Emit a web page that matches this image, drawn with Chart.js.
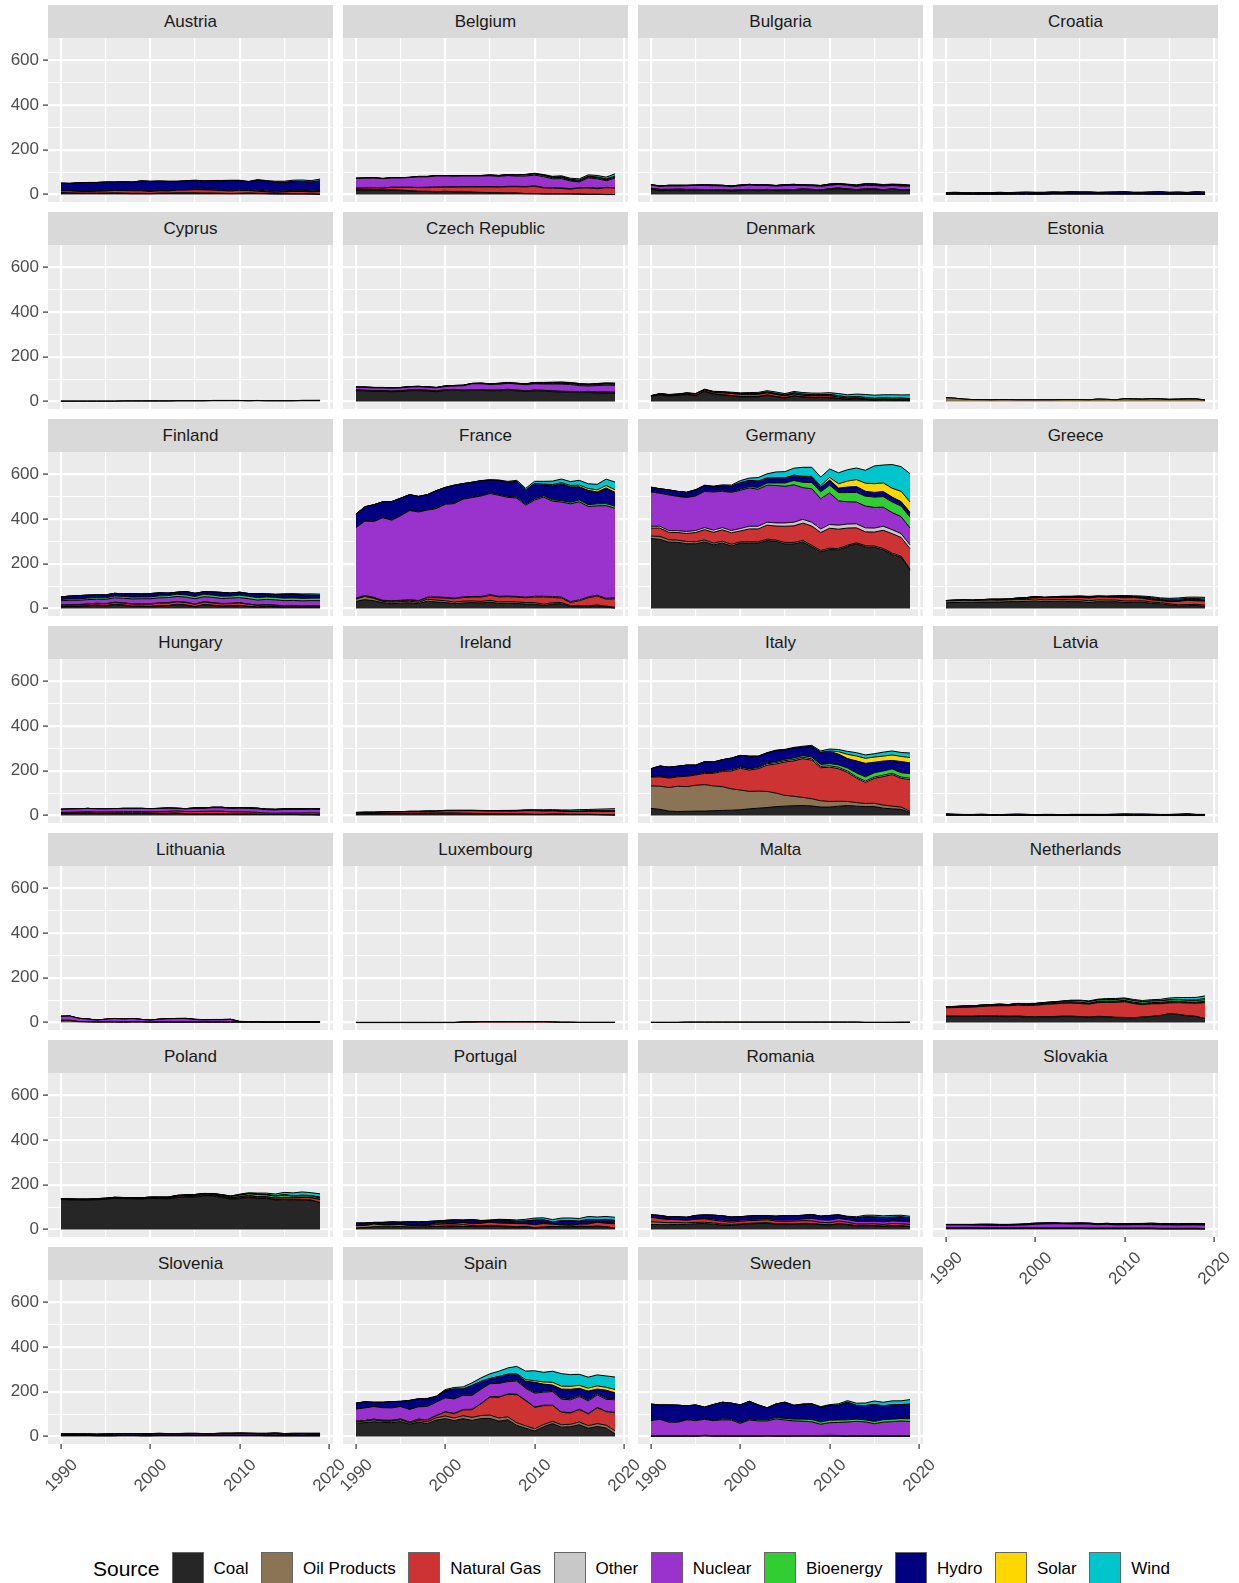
<!DOCTYPE html>
<html>
<head>
<meta charset="utf-8">
<script src="https://cdn.jsdelivr.net/npm/chart.js@4.4.1/dist/chart.umd.min.js"></script>
<style>
  body { margin: 0; background: #fff; width: 1239px; height: 1583px; overflow: hidden; position: relative;
         font-family: "Liberation Sans", Arial, sans-serif; }
  .strip { position: absolute; height: 33px; line-height: 33px; background: #d9d9d9; color: #1a1a1a;
           font-size: 17px; text-align: center; }
  canvas { position: absolute; }
  #legend { position: absolute; left: 93px; top: 1552px; height: 34px; display: flex; align-items: center;
            white-space: nowrap; color: #000; }
  #legend .ttl { font-size: 21px; margin-right: 12px; }
  #legend .key { width: 30px; height: 32px; border: 1px solid #666; margin-right: 10px; }
  #legend .lab { font-size: 17px; margin-right: 12.6px; }
</style>
</head>
<body>
<div id="legend"></div>
<script>
// electricity generation by source, TWh, 1990-2019
const YEARS = [1990,1991,1992,1993,1994,1995,1996,1997,1998,1999,
               2000,2001,2002,2003,2004,2005,2006,2007,2008,2009,
               2010,2011,2012,2013,2014,2015,2016,2017,2018,2019];
const SOURCES = ['Coal', 'Oil Products', 'Natural Gas', 'Other', 'Nuclear', 'Bioenergy', 'Hydro', 'Solar', 'Wind'];
const COLORS = ['#262626', '#8B7355', '#CD3333', '#C8C8C8', '#9A32CD', '#32CD32', '#000080', '#FFD700', '#00C5CD'];
const COUNTRIES = ['Austria', 'Belgium', 'Bulgaria', 'Croatia', 'Cyprus', 'Czech Republic', 'Denmark', 'Estonia',
                   'Finland', 'France', 'Germany', 'Greece', 'Hungary', 'Ireland', 'Italy', 'Latvia',
                   'Lithuania', 'Luxembourg', 'Malta', 'Netherlands', 'Poland', 'Portugal', 'Romania', 'Slovakia',
                   'Slovenia', 'Spain', 'Sweden'];
const Y_BREAKS = [0, 100, 200, 300, 400, 500, 600];
const Y_LABELS = [0, 200, 400, 600];
const X_BREAKS = [1990, 1995, 2000, 2005, 2010, 2015, 2020];
const X_LABELS = [1990, 2000, 2010, 2020];

// each country: [coal, oil, gas, other, nuclear, bio, hydro, solar, wind], null = not present
const AUSTRIA = [
  [7,6,5,5,5,5,6,5,4,4, 4,5,5,6,6,6,5,5,5,4, 5,6,5,4,3,3,3,3,2,1],
  [2,2,2,2,2,2,2,2,2,2, 1,2,2,2,2,2,2,2,1,1, 1,1,1,1,1,1,1,1,1,1],
  [8,9,7,7,8,9,11,11,11,11, 9,10,9,12,12,14,14,13,12,11, 13,11,9,7,6,8,10,10,9,11],
  [1,1,1,1,1,1,1,1,1,1, 1,1,1,1,1,1,1,1,1,1, 1,1,1,1,1,1,1,1,1,1],
  null,
  [1,1,1,1,1,1,1,1,1,1, 1,1,1,2,2,3,3,4,4,4, 4,4,4,4,4,4,4,4,4,4],
  [32,31,37,38,37,38,35,37,37,42, 43,41,41,36,38,37,35,36,38,41, 38,34,44,42,40,37,39,38,38,42],
  [0,0,0,0,0,0,0,0,0,0, 0,0,0,0,0,0,0,0,0,0, 0,0,0.3,0.6,0.8,0.9,1.1,1.3,1.4,1.7],
  [0,0,0,0,0,0,0,0,0,0, 0.1,0.2,0.2,0.4,0.9,1.3,1.7,2,2,2, 2,1.9,2.5,3.1,3.8,4.8,5.2,6.6,6,7.4]
];
const BELGIUM = [
  [20,20,20,19,20,18,16,14,14,12, 14,12,12,10,9,8,7,6,6,4, 4,3,3,3,3,2,1,1,0,0],
  [2,2,2,2,2,2,2,1,1,1, 1,1,1,1,1,1,1,1,1,1, 1,1,0.5,0.5,0.5,0.5,0.5,0.5,0.5,0.5],
  [6,7,8,8,10,12,14,16,16,19, 18,20,21,23,24,25,25,28,28,29, 32,26,25,24,21,26,28,25,30,28],
  [1,1,1,1,1,1,1,1,2,2, 2,2,2,2,2,2,2,2,2,2, 2,2,2,2,2,2,2,2,2,2],
  [43,43,43,41,41,41,43,47,46,49, 48,47,47,47,47,48,46,48,45,47, 48,48,40,42,34,26,43,42,29,43],
  [0,0,0,0,0,0,0,1,1,1, 1,1,1,1,1,2,3,3,4,5, 5,5,5,5,4,4,4,4,4,4],
  [1,1,1,1,1,1,1,1,1,1, 1,1,1,1,1,1,1,1,1,1, 1,1,1,1,1,1,1,1,1,1],
  [0,0,0,0,0,0,0,0,0,0, 0,0,0,0,0,0,0,0,0.1,0.2, 0.6,1.2,2.1,2.6,2.9,3.1,3.1,3.3,3.9,4.1],
  [0,0,0,0,0,0,0,0,0,0, 0,0.1,0.1,0.1,0.1,0.2,0.4,0.5,0.6,1, 1.3,2.3,2.8,3.8,4.6,5.6,5.4,6.5,7.5,9.9]
];
const BULGARIA = [
  [22,18,18,19,19,19,18,18,18,16, 18,20,17,20,17,18,19,22,20,18, 23,26,22,19,22,22,19,23,19,18],
  [2,2,2,2,1,1,1,1,1,1, 1,1,1,1,1,1,1,1,1,1, 1,1,1,1,1,1,0.5,0.5,0.5,0.5],
  [4,3,3,3,3,3,3,3,2,2, 2,2,2,2,2,2,2,2,2,2, 2,2,2,2,2,2,2,2,2,2],
  [0.5,0.5,0.5,0.5,0.5,0.5,0.5,0.5,0.5,0.5, 0.5,0.5,0.5,0.5,0.5,0.5,0.5,0.5,0.5,0.5, 0.5,0.5,0.5,0.5,0.5,0.5,0.5,0.5,0.5,0.5],
  [14,13,15,14,16,17,18,17,17,16, 18,19,20,17,17,19,19,15,16,15, 15,16,16,14,16,15,16,15,16,16],
  null,
  [2,2,3,3,2,2,3,3,3,3, 3,3,3,3,3,4,4,3,3,4, 5,3,3,4,5,5,4,3,5,3],
  [0,0,0,0,0,0,0,0,0,0, 0,0,0,0,0,0,0,0,0,0, 0,0.1,0.8,1.4,1.3,1.4,1.4,1.4,1.3,1.4],
  [0,0,0,0,0,0,0,0,0,0, 0,0,0,0,0,0,0,0,0.1,0.2, 0.7,0.9,1.2,1.4,1.4,1.5,1.4,1.5,1.3,1.3]
];
const CROATIA = [
  [1,1,1,1,1,1,1,1,1,1, 1,1,2,2,2,2,2,2,2,2, 2,2,2,2,2,2,2,1,1,1],
  [3,3,2,2,2,2,2,2,3,3, 2,2,3,3,2,2,2,2,2,1, 1,1,1,0.5,0.3,0.3,0.3,0.3,0.3,0.3],
  [2,2,2,1,1,1,1,1,1,1, 1,1,2,2,2,2,2,2,2,2, 2,2,2,1,1,1,1,2,2,2],
  null,
  null,
  [0,0,0,0,0,0,0,0,0,0, 0,0,0,0,0,0,0,0,0,0, 0,0.1,0.1,0.2,0.3,0.4,0.5,0.6,0.7,0.8],
  [3,4,4,4,5,5,6,5,5,6, 6,6,5,4,7,6,6,4,5,7, 8,5,5,8,9,6,7,5,8,6],
  null,
  [0,0,0,0,0,0,0,0,0,0, 0,0,0,0,0,0,0,0,0,0, 0.1,0.2,0.3,0.5,0.7,0.8,1,1.2,1.3,1.5]
];
const CYPRUS = [
  null,
  [2,2,2,2,2,2,2,3,3,3, 3,3,3,4,4,4,4,5,5,5, 5,4,5,4,4,4,4,5,5,5],
  null, null, null, null, null,
  [0,0,0,0,0,0,0,0,0,0, 0,0,0,0,0,0,0,0,0,0, 0,0,0,0.1,0.1,0.1,0.2,0.2,0.2,0.3],
  [0,0,0,0,0,0,0,0,0,0, 0,0,0,0,0,0,0,0,0,0, 0,0.1,0.1,0.2,0.2,0.2,0.2,0.2,0.2,0.2]
];
const CZECH = [
  [49,48,46,46,44,45,48,49,47,44, 50,51,48,50,50,48,48,52,48,45, 48,47,44,42,41,40,40,38,38,36],
  [1,1,1,1,1,1,1,1,1,1, 0.5,0.5,0.5,0.5,0.5,0.5,0.5,0.5,0.5,0.5, 0.5,0.5,0.5,0.5,0.5,0.5,0.5,0.5,0.5,0.5],
  [1,1,1,1,1,2,2,2,2,2, 2,2,2,2,2,2,2,2,2,2, 2,2,2,2,2,2,3,3,3,4],
  [1,1,1,1,1,1,1,1,1,1, 1,1,1,1,1,1,1,1,1,1, 1,1,2,2,2,2,2,2,2,2],
  [12,12,12,12,13,12,13,13,13,13, 14,15,19,26,26,25,26,26,27,27, 28,28,30,31,31,27,24,28,30,30],
  [0,0,0,0,0,0,0,0,0,0, 0.3,0.4,0.5,0.6,0.7,0.8,0.9,1,1.2,1.5, 1.9,2.4,3,3.7,4,4.2,4.3,4.4,4.5,4.6],
  [1,2,2,2,2,2,2,2,2,2, 2,2,2,1,2,2,3,2,2,2, 3,2,2,3,2,2,2,2,2,2],
  [0,0,0,0,0,0,0,0,0,0, 0,0,0,0,0,0,0,0,0,0.1, 0.6,2.1,2.2,2.2,2.1,2.3,2.1,2.2,2.4,2.4],
  [0,0,0,0,0,0,0,0,0,0, 0,0,0,0,0,0,0.1,0.1,0.2,0.3, 0.3,0.4,0.4,0.5,0.5,0.6,0.5,0.6,0.6,0.7]
];
const DENMARK = [
  [23,30,25,27,31,26,44,33,29,25, 21,21,21,28,21,16,25,20,18,18, 17,13,9,12,9,5,8,6,6,4],
  [1,2,2,2,2,2,3,2,2,2, 2,2,2,2,2,1,1,1,1,1, 1,1,1,1,1,1,1,1,1,1],
  [1,2,3,3,4,5,5,6,8,9, 9,9,9,9,9,8,8,7,7,7, 8,6,4,3,2,2,2,2,2,2],
  [0,0,0,0,0,1,1,1,1,1, 1,1,1,1,1,1,1,1,1,1, 1,1,1,1,1,1,1,1,1,1],
  null,
  [1,1,1,1,1,1,1,2,2,2, 2,3,3,3,3,3,4,4,4,4, 5,5,5,5,5,5,5,5,5,5],
  null,
  [0,0,0,0,0,0,0,0,0,0, 0,0,0,0,0,0,0,0,0,0, 0,0,0.1,0.5,0.6,0.6,0.7,0.8,1,1],
  [0.6,0.7,0.9,1,1.1,1.2,1.2,1.9,2.8,3, 4.2,4.3,4.9,5.6,6.6,6.6,6.1,7.2,6.9,6.7, 7.8,9.8,10.3,11.1,13.1,14.1,12.8,14.8,13.9,16.1]
];
const ESTONIA = [
  null,
  [17,15,11,9,9,8,9,9,8,8, 8,8,8,9,9,9,8,11,10,8, 12,11,10,12,11,9,10,11,11,6],
  null, null, null,
  [0,0,0,0,0,0,0,0,0,0, 0,0,0,0,0,0.1,0.1,0.1,0.1,0.3, 0.8,0.9,1,1,1,1,1,1,1,1],
  null, null,
  [0,0,0,0,0,0,0,0,0,0, 0,0,0,0,0,0,0,0,0,0, 0.3,0.4,0.4,0.5,0.6,0.7,0.6,0.7,0.6,0.7]
];
const FINLAND = [
  [8,10,9,12,15,12,18,15,10,10, 9,12,13,18,15,8,17,14,10,11, 13,9,6,9,8,6,7,6,7,6],
  [2,2,2,1,1,1,1,1,1,1, 1,1,1,1,1,1,1,1,1,1, 1,1,1,1,1,0.5,0.5,0.5,0.5,0.5],
  [5,5,6,7,7,8,8,8,9,9, 10,11,11,11,11,10,11,10,10,10, 11,9,7,6,5,4,4,4,4,4],
  [1,1,1,1,1,1,2,2,2,2, 2,2,2,2,2,2,2,2,2,2, 2,2,2,2,2,2,2,2,2,2],
  [19,19,19,19,18,19,19,20,21,22, 22,22,22,22,22,23,22,23,22,23, 22,23,22,23,23,23,23,22,22,23],
  [6,6,6,7,7,7,8,8,8,8, 8,9,9,10,10,10,11,10,10,9, 11,11,11,11,11,11,11,11,11,11],
  [11,13,15,13,12,13,12,12,15,13, 15,13,11,9,15,14,11,14,17,13, 13,12,17,13,13,17,16,15,13,12],
  [0,0,0,0,0,0,0,0,0,0, 0,0,0,0,0,0,0,0,0,0, 0,0,0,0,0,0,0,0.1,0.2,0.2],
  [0,0,0,0,0,0,0,0,0,0.1, 0.1,0.1,0.1,0.1,0.1,0.2,0.2,0.2,0.3,0.3, 0.3,0.5,0.5,0.8,1.1,2.3,3.1,4.8,5.9,6]
];
const FRANCE = [
  [32,40,35,26,22,24,26,22,33,29, 27,22,25,27,25,29,23,24,23,20, 20,14,20,22,9,9,8,11,7,2],
  [10,14,10,6,7,7,7,6,9,9, 8,7,8,7,7,8,7,7,7,7, 7,6,6,5,4,4,5,5,4,4],
  [3,3,3,3,4,4,5,6,7,11, 12,15,16,17,19,22,22,22,21,21, 24,31,24,20,14,22,35,40,31,38],
  [2,2,2,2,2,2,2,2,2,3, 3,3,3,3,3,3,3,3,3,3, 4,4,4,4,4,4,4,4,4,4],
  [314,331,338,368,359,377,397,395,388,394, 415,421,436,441,448,451,450,440,439,410, 429,442,425,424,436,437,403,398,413,399],
  [2,2,2,2,2,2,2,2,3,3, 3,3,3,3,3,4,4,4,5,5, 5,6,6,6,7,8,8,9,9,9],
  [58,62,73,69,81,76,69,67,66,77, 72,79,66,65,65,56,62,63,68,62, 68,50,64,76,69,59,64,53,70,62],
  [0,0,0,0,0,0,0,0,0,0, 0,0,0,0,0,0,0,0,0,0.2, 0.6,2.1,4,4.7,5.9,7.3,8.2,9.2,10.6,11.4],
  [0,0,0,0,0,0,0,0,0,0, 0.1,0.1,0.3,0.4,0.6,1,2.2,4,5.7,7.9, 9.9,12.2,15.2,16,17.2,21.4,21.4,24.7,28.6,34.6]
];
const GERMANY = [
  [312,309,296,295,289,289,297,284,292,279, 291,293,292,304,299,288,288,297,275,253, 263,262,278,288,275,273,262,241,229,171],
  [11,13,11,10,10,9,9,8,8,8, 6,6,6,6,6,7,7,7,7,6, 6,6,5,5,6,6,6,6,5,5],
  [36,37,33,34,36,41,46,48,51,51, 49,56,57,62,63,72,74,77,86,80, 89,86,76,67,61,62,81,87,83,91],
  [8,8,8,8,9,9,9,10,10,10, 11,12,12,13,14,15,16,17,17,16, 17,18,18,18,18,18,18,18,17,17],
  [153,147,159,153,151,154,161,170,162,170, 170,171,165,165,167,163,167,141,149,135, 141,108,99,97,97,92,85,76,76,75],
  [1,1,1,1,1,2,2,2,3,3, 5,6,8,10,11,15,19,24,28,30, 34,37,41,43,44,46,47,47,47,48],
  [20,19,21,21,22,25,24,21,21,24, 29,27,28,22,23,22,22,24,23,21, 23,20,25,26,22,21,23,22,20,22],
  [0,0,0,0,0,0,0,0,0,0, 0,0.1,0.2,0.3,0.6,1.3,2.2,3.1,4.4,6.6, 11.7,19.6,26.4,31,36.1,38.7,38.1,39.4,45.8,46.4],
  [0,0.2,0.3,0.6,0.9,1.5,2,3,4.5,5.5, 9.5,10.5,15.8,18.7,25.5,27.2,30.7,39.7,40.6,38.6, 37.8,48.9,50.7,51.7,57.4,79.2,79.9,105.7,110,126]
];
const GREECE = [
  [26,27,28,28,29,29,29,31,31,32, 34,31,32,33,31,31,27,31,30,31, 27,28,29,23,21,16,12,13,14,10],
  [8,8,9,8,8,9,8,8,9,8, 9,8,8,7,8,8,8,8,8,7, 7,6,6,6,6,5,5,5,5,5],
  [0,0,0,0,0,1,1,1,3,5, 7,9,9,9,10,11,12,13,13,12, 14,15,11,10,9,10,15,19,16,19],
  null,
  null,
  [0,0,0,0,0,0,0,0,0,0, 0,0,0,0,0,0,0,0,0,0, 0.2,0.2,0.2,0.2,0.2,0.3,0.3,0.3,0.3,0.3],
  [2,3,2,2,3,3,4,3,4,4, 4,2,3,5,5,5,6,3,3,5, 7,4,4,6,4,6,6,4,6,4],
  [0,0,0,0,0,0,0,0,0,0, 0,0,0,0,0,0,0,0,0,0.1, 0.2,0.6,1.7,3.6,3.8,3.9,3.9,4,3.8,4.4],
  [0,0,0,0,0,0,0,0,0,0.1, 0.4,0.7,0.6,1.1,1.1,1.3,1.7,1.8,2.2,2.5, 2.7,3.3,3.9,4.1,3.7,4.6,5.1,5.5,6.3,7.3]
];
const HUNGARY = [
  [9,9,10,10,9,9,9,9,9,9, 9,8,8,9,7,6,6,6,6,6, 6,6,6,5,5,5,5,4,4,3],
  [2,2,2,3,2,2,3,4,4,4, 3,3,3,3,1,1,1,1,1,1, 1,1,0.5,0.5,0.5,0.3,0.3,0.3,0.3,0.3],
  [3,4,4,5,5,5,5,5,5,5, 5,7,8,9,10,11,12,13,13,10, 10,9,8,6,5,6,6,7,8,8],
  null,
  [14,14,14,14,14,14,14,14,14,14, 14,14,14,11,12,14,13,15,15,15, 16,16,16,15,15,16,16,16,16,16],
  [0,0,0,0,0,0,0,0,0,0, 0,0,0.5,0.5,1,2,2,2,2,2, 2,2,2,2,2,2,2,2,2,2],
  [0.2,0.2,0.2,0.2,0.2,0.2,0.2,0.2,0.2,0.2, 0.2,0.2,0.2,0.2,0.2,0.2,0.2,0.2,0.2,0.2, 0.2,0.2,0.2,0.2,0.2,0.2,0.2,0.2,0.2,0.2],
  [0,0,0,0,0,0,0,0,0,0, 0,0,0,0,0,0,0,0,0,0, 0,0,0,0,0,0.1,0.2,0.4,0.6,1.3],
  [0,0,0,0,0,0,0,0,0,0, 0,0,0,0,0,0,0,0,0,0, 0.5,0.6,0.8,0.7,0.6,0.7,0.7,0.8,0.6,0.7]
];
const IRELAND = [
  [6,7,7,8,8,8,8,8,8,8, 8,8,7,7,6,6,6,6,6,6, 5,5,6,6,5,5,5,4,3,2],
  [2,2,2,2,2,2,3,3,4,4, 4,4,4,3,3,3,3,2,1,1, 1,1,1,1,1,1,1,1,1,1],
  [5,5,5,5,6,6,7,7,7,7, 10,10,11,12,12,11,11,12,13,15, 16,14,14,12,12,12,13,14,15,16],
  [0.3,0.3,0.3,0.3,0.3,0.3,0.3,0.3,0.3,0.3, 0.3,0.3,0.3,0.3,0.3,0.3,0.3,0.3,0.3,0.3, 0.3,0.3,0.3,0.3,0.3,0.3,0.3,0.3,0.3,0.3],
  null,
  [0,0,0,0,0,0,0,0,0,0, 0,0,0,0,0,0,0,0,0,0, 0.2,0.3,0.4,0.5,0.6,0.7,0.8,0.9,0.9,1],
  [1,1,1,1,1,1,1,1,1,1, 1,1,1,1,1,1,1,1,1,1, 1,1,1,1,1,1,1,1,1,1],
  null,
  [0,0,0,0,0,0,0,0,0,0, 0.2,0.3,0.4,0.4,0.7,1.1,1.6,1.9,2.4,2.9, 2.8,4.4,4,4.5,5.1,6.5,6.1,7.4,8.6,9.5]
];
const ITALY = [
  [32,28,20,18,19,20,20,22,23,24, 26,30,33,36,40,42,44,45,43,38, 38,42,45,42,40,40,33,30,28,14],
  [100,103,105,113,110,115,118,110,106,95, 88,78,76,72,60,48,42,36,32,28, 25,22,18,16,14,15,14,12,10,6],
  [39,42,42,42,46,46,50,56,68,80, 97,95,100,117,130,149,158,173,172,147, 153,145,130,109,94,111,127,141,128,141],
  [3,3,3,3,3,3,4,4,4,5, 5,5,5,6,6,6,6,6,6,6, 6,6,6,6,6,6,6,6,6,6],
  null,
  [0,0,0,0,0,0,1,1,1,1, 2,2,3,4,5,6,7,7,8,9, 10,11,13,17,19,19,19,19,19,20],
  [35,45,46,44,47,41,47,46,47,51, 50,54,47,44,49,42,44,38,47,53, 54,48,42,54,60,47,44,38,50,48],
  [0,0,0,0,0,0,0,0,0,0, 0,0,0,0,0,0,0,0,0.2,0.7, 1.9,10.8,18.9,21.6,22.3,22.9,22.1,24.4,22.7,23.7],
  [0,0,0,0,0,0,0,0.1,0.2,0.4, 0.6,1.2,1.4,1.5,1.8,2.3,3,4,4.9,6.5, 9.1,9.9,13.4,14.9,15.2,14.8,17.7,17.7,17.7,20.2]
];
const LATVIA = [
  null,
  [1,1,1,1,1,0.5,0.5,0.5,0.5,0.5, 0.2,0.2,0.2,0.2,0.2,0.2,0.2,0.2,0.2,0.2, 0.2,0.2,0.2,0.2,0.2,0.2,0.2,0.2,0.2,0.2],
  [2,2,2,1,1,1,2,2,2,2, 1,2,2,2,2,2,2,2,2,2, 3,3,2,2,2,2,2,3,2,2],
  null, null,
  [0,0,0,0,0,0,0,0,0,0, 0,0,0,0,0,0,0,0,0,0, 0.2,0.3,0.4,0.5,0.7,0.8,0.9,0.9,0.9,0.9],
  [5,3,2,3,4,3,2,3,4,3, 3,3,3,2,3,3,3,3,3,4, 4,3,4,3,2,2,3,4,2,2],
  null,
  [0,0,0,0,0,0,0,0,0,0, 0,0,0,0,0,0,0,0,0,0, 0.05,0.07,0.1,0.1,0.1,0.1,0.1,0.2,0.1,0.2]
];
const LITHUANIA = [
  null,
  [8,8,4,3,2,2,2,1,2,2, 1,1,1,1,1,1,1,1,1,1, 1,1,1,0.5,0.5,0.5,0.5,0.5,0.5,0.5],
  [3,3,1,1,1,2,2,3,2,2, 2,3,3,2,3,3,3,3,3,3, 3,2,2,1,1,1,1,1,1,1],
  null,
  [17,18,14,12,8,11,14,12,14,10, 8,11,13,15,14,10,8,9,9,10, 0,0,0,0,0,0,0,0,0,0],
  [0,0,0,0,0,0,0,0,0,0, 0,0,0,0,0,0,0,0,0,0, 0.3,0.3,0.4,0.4,0.5,0.5,0.5,0.6,0.6,0.6],
  [0.4,0.4,0.4,0.4,0.4,0.4,0.4,0.4,0.4,0.4, 0.6,0.6,0.6,0.6,0.9,0.9,0.9,0.9,0.9,0.9, 1,1,1,1,1,1,1,1,1,1],
  null,
  [0,0,0,0,0,0,0,0,0,0, 0,0,0,0,0,0,0,0,0,0, 0.2,0.5,0.5,0.6,0.6,0.8,1.1,1.4,1.1,1.5]
];
const LUXEMBOURG = [
  null, null,
  [0,0,0,0,0,0,0,0,0,0, 0,0,2,2,3,3,3,3,3,3, 3,3,2,1,1,0.3,0.3,0.3,0.3,0.3],
  [0.5,0.5,0.5,0.5,0.5,0.5,0.5,0.5,0.5,0.5, 0.5,0.5,0.5,0.5,0.5,0.5,0.5,0.5,0.5,0.5, 0.5,0.5,0.5,0.5,0.5,0.5,0.5,0.5,0.5,0.5],
  null, null,
  [1,1,1,1,1,1,1,1,1,1, 1,1,1,1,1,1,1,1,1,1, 1,1,1,1,1,1,1,1,1,1],
  null, null
];
const MALTA = [
  null,
  [1,1,1,1,2,2,2,2,2,2, 2,2,2,2,2,2,2,2,2,2, 2,2,2,2,1,1,1,0.3,0.3,0.3],
  [0,0,0,0,0,0,0,0,0,0, 0,0,0,0,0,0,0,0,0,0, 0,0,0,0,0,0,0,1,1.5,1.5],
  null, null, null, null,
  [0,0,0,0,0,0,0,0,0,0, 0,0,0,0,0,0,0,0,0,0, 0,0,0.1,0.1,0.1,0.1,0.1,0.2,0.2,0.2],
  null
];
const NETHERLANDS = [
  [27,27,26,26,28,28,27,26,27,24, 24,25,25,27,27,25,23,26,25,22, 22,21,24,27,31,39,36,30,27,17],
  [3,3,3,3,3,3,3,3,3,3, 2,2,2,2,2,2,2,2,2,2, 1,1,1,1,1,1,1,1,1,1],
  [36,37,39,40,41,43,45,46,48,49, 51,54,56,57,58,58,57,61,63,66, 70,63,55,56,52,48,52,56,58,71],
  [1,1,1,1,1,1,1,1,1,1, 1,1,2,2,2,2,2,2,2,2, 2,2,2,2,2,2,2,2,2,2],
  [3,3,4,4,4,4,4,2,4,4, 4,4,4,4,4,4,3,4,4,4, 4,4,4,3,4,4,4,3,3,4],
  [1,1,1,1,1,1,2,2,2,3, 3,3,3,3,5,7,7,6,7,7, 7,7,7,7,7,7,7,7,7,7],
  null,
  [0,0,0,0,0,0,0,0,0,0, 0,0,0,0,0,0,0,0,0,0, 0.1,0.1,0.3,0.5,0.8,1.1,1.6,2.2,3.7,5.3],
  [0,0,0,0,0,0.3,0.5,0.5,0.6,0.7, 0.8,0.8,0.9,1.3,1.9,2.1,2.7,3.4,4.3,4.6, 4,5.1,5,5.6,5.8,7.6,8.2,10.6,10.6,11.5]
];
const POLAND = [
  [134,132,131,131,133,135,139,138,137,136, 139,138,137,143,145,145,149,149,143,135, 138,143,138,139,132,134,131,132,129,119],
  [2,2,2,2,2,2,2,2,2,2, 2,2,2,2,2,3,3,3,3,3, 3,3,3,2,2,2,3,3,3,2],
  [0,0,0,0,0,0,0,0,0,1, 1,2,3,4,4,4,4,3,3,3, 5,5,5,5,6,7,7,8,10,13],
  [1,1,1,1,1,1,1,1,1,1, 1,1,1,1,1,1,1,1,1,1, 1,1,1,1,1,1,1,1,1,1],
  null,
  [0,0,0,0,0,0,0,0,0,0, 0,0,0,0.5,1,1.4,2,2.4,3.3,4.9, 6,7.1,9.1,7.5,8,9,7,6,6.5,6.5],
  [1,2,2,2,2,2,2,2,2,2, 2,2,2,2,2,2,2,2,2,2, 3,2,2,2,2,2,2,3,2,2],
  [0,0,0,0,0,0,0,0,0,0, 0,0,0,0,0,0,0,0,0,0, 0,0,0,0,0,0,0,0,0.3,0.7],
  [0,0,0,0,0,0,0,0,0,0, 0,0,0,0,0,0.1,0.3,0.5,0.8,1, 1.7,3.2,4.7,6,7.7,10.9,12.6,14.9,12.8,15.1]
];
const PORTUGAL = [
  [8,9,13,13,13,14,12,12,13,14, 13,14,14,14,13,14,14,12,10,12, 7,10,12,11,11,13,12,14,11,5],
  [10,9,12,8,8,9,6,5,5,8, 7,6,8,4,4,5,3,3,3,2, 2,2,2,2,2,2,2,2,2,2],
  [0,0,0,0,0,0,0,1,3,7, 8,7,10,8,11,14,12,13,14,12, 13,15,10,8,6,9,11,17,15,19],
  [1,1,1,1,1,1,1,1,1,1, 1,1,1,1,1,1,1,1,1,1, 1,1,1,1,1,1,1,1,1,1],
  null,
  [1,1,1,1,1,1,1,1,1,1, 1,1,1,1,1,2,2,2,2,2, 3,3,3,3,3,3,3,3,3,3],
  [9,9,5,9,11,8,15,14,13,7, 11,14,8,16,10,5,11,10,7,9, 16,12,6,14,16,9,16,6,13,10],
  [0,0,0,0,0,0,0,0,0,0, 0,0,0,0,0,0,0,0,0.04,0.2, 0.2,0.3,0.4,0.5,0.6,0.8,0.9,1,1,1.3],
  [0,0,0,0,0,0,0,0,0.1,0.1, 0.2,0.3,0.4,0.5,0.8,1.8,2.9,4,5.8,7.6, 9.2,9.2,10.3,12,12.1,11.6,12.5,12.2,12.6,13.7]
];
const ROMANIA = [
  [23,22,22,23,23,26,27,24,20,18, 22,25,27,28,23,23,23,26,25,22, 20,25,22,16,17,17,14,17,16,13],
  [12,11,9,8,7,6,6,6,5,5, 3,3,3,3,3,3,2,2,2,1, 1,1,1,1,1,1,1,1,1,1],
  [20,16,14,13,12,14,15,12,12,10, 12,12,11,13,12,11,13,12,12,9, 10,12,10,8,7,8,8,9,9,9],
  null,
  [0,0,0,0,0,0,1.4,5.4,5.3,5.2, 5.5,5.5,5.5,4.9,5.6,5.5,5.6,7.7,11.2,11.8, 11.6,11.7,11.5,11.6,11.7,11.6,11.3,11.5,11.4,11.3],
  [0,0,0,0,0,0,0,0,0,0, 0,0,0,0,0,0,0,0,0,0, 0.3,0.3,0.4,0.5,0.5,0.5,0.5,0.5,0.5,0.5],
  [11,14,12,13,13,17,16,17,19,18, 15,15,16,13,16,20,18,16,17,16, 20,15,12,15,19,17,18,15,18,16],
  [0,0,0,0,0,0,0,0,0,0, 0,0,0,0,0,0,0,0,0,0, 0,0,0,0.4,1.6,2,1.8,1.8,1.8,1.7],
  [0,0,0,0,0,0,0,0,0,0, 0,0,0,0,0,0,0,0,0,0, 0.3,1.4,2.6,4.8,6.2,7.1,6.6,7.4,6.3,6.8]
];
const SLOVAKIA = [
  [6,6,6,6,5,5,5,5,5,5, 5,5,5,5,5,5,4,4,4,4, 4,4,4,4,3,3,3,3,3,2],
  [1,1,1,1,1,1,1,1,1,1, 1,1,1,1,1,1,1,1,1,1, 1,1,1,1,1,1,1,1,1,1],
  [2,2,2,2,2,2,2,2,2,2, 2,2,2,2,2,2,2,2,2,2, 2,2,2,2,2,2,2,2,2,2],
  null,
  [12,12,12,11,12,11,11,11,12,13, 16,17,18,18,17,17,18,15,17,14, 14,15,15,15,15,15,14,15,15,15],
  [0,0,0,0,0,0,0,0,0,0, 0,0,0,0,0,0,0,0,0,0, 0.7,0.9,1,1.2,1.5,1.6,1.6,1.7,1.7,1.7],
  [2,2,2,3,4,5,4,4,4,5, 5,5,5,3,4,5,4,4,4,5, 5,4,4,5,4,4,4,4,4,4],
  [0,0,0,0,0,0,0,0,0,0, 0,0,0,0,0,0,0,0,0,0, 0,0.4,0.5,0.6,0.6,0.5,0.5,0.5,0.6,0.6],
  null
];
const SLOVENIA = [
  [5,5,5,5,4,4,4,5,5,4, 4,5,5,5,5,5,5,5,5,5, 5,5,5,4,4,4,4,4,4,4],
  [0.3,0.3,0.3,0.3,0.3,0.3,0.3,0.3,0.3,0.3, 0.3,0.3,0.3,0.3,0.3,0.3,0.3,0.3,0.3,0.3, 0.3,0.3,0.3,0.3,0.3,0.3,0.3,0.3,0.3,0.3],
  [0.2,0.2,0.2,0.2,0.2,0.2,0.2,0.2,0.2,0.2, 0.2,0.2,0.2,0.2,0.2,0.2,0.2,0.2,0.2,0.2, 0.2,0.2,0.2,0.2,0.2,0.2,0.2,0.2,0.2,0.2],
  null,
  [4,4,4,4,4,5,5,5,5,5, 5,5,5,5,5,6,5,5,6,5, 6,6,5,5,6,5,5,6,5,5],
  null,
  [3,3,3,3,3,3,3,3,3,4, 4,4,3,3,4,3,3,3,4,5, 5,4,4,5,6,4,5,4,5,5],
  [0,0,0,0,0,0,0,0,0,0, 0,0,0,0,0,0,0,0,0,0, 0.1,0.1,0.2,0.2,0.3,0.3,0.3,0.3,0.3,0.3],
  null
];
const SPAIN = [
  [60,62,66,63,62,67,55,64,58,74, 80,71,80,72,80,81,69,75,50,37, 25,44,58,42,44,53,37,45,38,12],
  [6,7,8,6,6,8,6,7,8,10, 12,12,13,14,14,15,14,13,12,11, 10,10,10,11,11,12,12,13,13,14],
  [2,2,3,3,4,3,3,6,8,9, 17,19,26,34,52,80,92,100,125,112, 95,84,70,55,50,55,52,70,60,80],
  [1,1,1,1,1,1,1,1,1,2, 2,2,2,2,2,2,2,2,2,2, 2,2,2,2,2,2,2,2,2,2],
  [54,56,56,56,55,55,56,55,59,59, 62,64,63,62,63,58,60,55,59,53, 62,58,61,57,57,57,56,56,53,56],
  [0,0,0,0,0,0,0,0,1,1, 1,1,2,2,3,3,3,3,4,4, 4,4,5,5,5,5,5,5,5,5],
  [26,27,19,24,28,23,40,35,34,23, 31,43,26,42,32,20,28,30,26,28, 44,32,24,40,42,31,39,21,36,26],
  [0,0,0,0,0,0,0,0,0,0, 0,0,0,0,0,0,0.1,0.5,2.6,6.8, 7.2,9.6,11.9,12.9,13.2,13.3,13,13.9,12.7,15],
  [0,0,0,0,0,0.3,0.4,0.7,1.4,2.7, 4.7,6.9,9.6,12,15.9,21,23.3,27.6,32.2,38.3, 44.3,42.9,49.5,55.6,52,49.3,48.9,49.1,50.8,55.6]
];
const SWEDEN = [
  [1,1,1,1,2,2,3,2,2,2, 2,2,2,2,2,2,2,2,2,2, 2,2,1,1,1,1,1,1,1,1],
  [1,1,1,1,1,1,2,1,1,1, 1,1,1,2,1,1,1,1,1,1, 1,1,1,1,1,1,1,1,1,1],
  [0,0,0,0,0,0,0,0,0,0, 0,0,0,0,0,0,1,1,1,1, 2,1,1,1,0.5,0.5,0.5,0.5,0.5,0.5],
  [1,1,1,1,1,1,1,1,1,1, 1,1,1,1,1,1,1,1,1,1, 1,1,1,1,1,1,1,1,1,1],
  [68,74,61,61,71,67,71,67,71,70, 55,70,66,65,75,70,65,64,61,50, 56,58,61,64,62,54,61,63,66,64],
  [2,2,2,2,3,3,3,3,4,4, 4,4,5,5,6,7,8,9,10,10, 11,11,10,10,9,10,11,11,11,12],
  [72,62,75,74,59,67,51,69,74,71, 78,79,66,53,60,72,61,66,69,66, 66,66,78,61,64,75,62,64,62,65],
  [0,0,0,0,0,0,0,0,0,0, 0,0,0,0,0,0,0,0,0,0, 0,0,0,0,0,0,0,0.2,0.4,0.7],
  [0,0,0,0,0.1,0.1,0.1,0.2,0.3,0.4, 0.5,0.5,0.6,0.6,0.9,0.9,1,1.4,2,2.5, 3.5,6.1,7.2,9.8,11.2,16.3,15.5,17.6,16.6,19.8]
];

const DATA = [AUSTRIA, BELGIUM, BULGARIA, CROATIA, CYPRUS, CZECH, DENMARK, ESTONIA,
              FINLAND, FRANCE, GERMANY, GREECE, HUNGARY, IRELAND, ITALY, LATVIA,
              LITHUANIA, LUXEMBOURG, MALTA, NETHERLANDS, POLAND, PORTUGAL, ROMANIA, SLOVAKIA,
              SLOVENIA, SPAIN, SWEDEN];

// facet geometry
const PX0 = 48, COLSTEP = 295, PW = 285, ROW0 = 5, ROWSTEP = 207, STRIPH = 33, PH = 164;
const ML = 48, MR = 34, MB = 62;
const FONT = '"Liberation Sans", Arial, sans-serif';

const panelBg = {
  id: 'panelBg',
  beforeDraw(chart) {
    const a = chart.chartArea;
    const ctx = chart.ctx;
    ctx.save();
    ctx.fillStyle = '#ebebeb';
    ctx.fillRect(a.left, a.top, a.right - a.left, a.bottom - a.top);
    ctx.restore();
  }
};

function makePanel(i) {
  const col = i % 4, row = Math.floor(i / 4);
  const left = PX0 + col * COLSTEP;
  const top = ROW0 + row * ROWSTEP;
  const isBottom = row === 6 || (row === 5 && col === 3);
  const isLeft = col === 0;

  const strip = document.createElement('div');
  strip.className = 'strip';
  strip.style.left = left + 'px';
  strip.style.top = top + 'px';
  strip.style.width = PW + 'px';
  strip.textContent = COUNTRIES[i];
  document.body.appendChild(strip);

  const W = ML + PW + MR, H = PH + (isBottom ? MB : 0);
  const cv = document.createElement('canvas');
  cv.width = W; cv.height = H;
  cv.style.width = W + 'px'; cv.style.height = H + 'px';
  cv.style.left = (left - ML) + 'px';
  cv.style.top = (top + STRIPH) + 'px';
  document.body.appendChild(cv);

  const datasets = [];
  DATA[i].forEach((vals, k) => {
    if (!vals) return;
    datasets.push({
      label: SOURCES[k],
      data: vals.map((v, j) => ({ x: YEARS[j], y: v })),
      backgroundColor: COLORS[k],
      borderColor: '#000',
      borderWidth: 1,
      fill: datasets.length === 0 ? 'origin' : '-1',
      pointRadius: 0,
      tension: 0
    });
  });

  new Chart(cv, {
    type: 'line',
    data: { datasets },
    plugins: [panelBg],
    options: {
      responsive: false,
      animation: false,
      devicePixelRatio: 1,
      events: [],
      layout: { autoPadding: false, padding: { left: isLeft ? 0 : ML, right: MR, top: 0, bottom: 0 } },
      plugins: { legend: { display: false }, tooltip: { enabled: false } },
      scales: {
        x: {
          type: 'linear',
          min: 1988.55,
          max: 2020.45,
          afterBuildTicks: s => { s.ticks = X_BREAKS.map(v => ({ value: v })); },
          afterFit: s => { s.height = isBottom ? MB : 0; s.paddingLeft = 0; s.paddingRight = 0; },
          border: { display: false },
          grid: {
            color: '#ffffff',
            lineWidth: c => X_LABELS.includes(c.tick.value) ? 2.2 : 1.1,
            drawTicks: isBottom,
            tickLength: 5,
            tickWidth: 1.2,
            tickColor: c => X_LABELS.includes(c.tick.value) ? '#333333' : 'rgba(0,0,0,0)'
          },
          ticks: {
            display: isBottom,
            autoSkip: false,
            minRotation: 45,
            maxRotation: 45,
            padding: 6,
            labelOffset: 14,
            color: '#4d4d4d',
            font: { size: 17, family: FONT },
            callback: v => X_LABELS.includes(v) ? String(v) : ''
          }
        },
        y: {
          stacked: true,
          min: -33,
          max: 698,
          afterBuildTicks: s => { s.ticks = Y_BREAKS.map(v => ({ value: v })); },
          afterFit: s => { s.width = isLeft ? ML : 0; s.paddingTop = 0; s.paddingBottom = 0; },
          border: { display: false },
          grid: {
            color: '#ffffff',
            lineWidth: c => Y_LABELS.includes(c.tick.value) ? 2.2 : 1.1,
            drawTicks: isLeft,
            tickLength: 5,
            tickWidth: 1.2,
            tickColor: c => Y_LABELS.includes(c.tick.value) ? '#333333' : 'rgba(0,0,0,0)'
          },
          ticks: {
            display: isLeft,
            padding: 4,
            color: '#4d4d4d',
            font: { size: 17, family: FONT },
            callback: v => Y_LABELS.includes(v) ? String(v) : ''
          }
        }
      }
    }
  });
}

COUNTRIES.forEach((_, i) => makePanel(i));

// legend
const legend = document.getElementById('legend');
const ttl = document.createElement('span');
ttl.className = 'ttl';
ttl.textContent = 'Source';
legend.appendChild(ttl);
SOURCES.forEach((name, k) => {
  const key = document.createElement('span');
  key.className = 'key';
  key.style.background = COLORS[k];
  legend.appendChild(key);
  const lab = document.createElement('span');
  lab.className = 'lab';
  lab.textContent = name;
  legend.appendChild(lab);
});
</script>
</body>
</html>
